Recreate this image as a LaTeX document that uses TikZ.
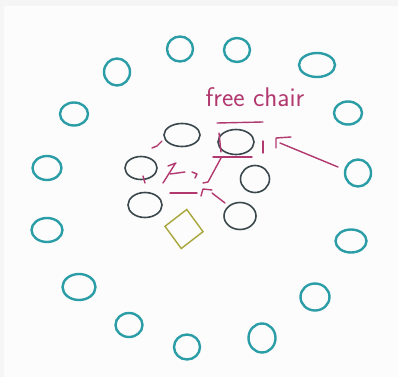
\documentclass[tikz,border=0pt]{standalone}
\usetikzlibrary{shapes.geometric}
\definecolor{tealpen}{HTML}{2A9DA6}
\definecolor{inkpen}{HTML}{3A484D}
\definecolor{redpen}{HTML}{B2396F}
\definecolor{olivepen}{HTML}{A8A63A}
\begin{document}
\begin{tikzpicture}[x=1pt,y=-1pt,
  outer/.style={draw=tealpen,line width=2.4pt,ellipse,inner sep=0pt},
  inner/.style={draw=inkpen,line width=1.6pt,ellipse,inner sep=0pt},
  scrib/.style={draw=redpen,line width=1.4pt,line cap=round,line join=round}]
\useasboundingbox (0,0) rectangle (398,377);
\fill[gray!8] (0,0) rectangle (398,377);
\fill[white!98!gray] (4,6) rectangle (398,377);
% outer ring of chairs
\node[outer,minimum width=26pt,minimum height=25pt] (o1) at (180,49) {};
\node[outer,minimum width=26pt,minimum height=24pt] (o2) at (237,50) {};
\node[outer,minimum width=36pt,minimum height=24pt] (o3) at (317,65) {};
\node[outer,minimum width=28pt,minimum height=23pt] (o4) at (348,113) {};
\node[outer,minimum width=26pt,minimum height=27pt] (o5) at (358,173) {};
\node[outer,minimum width=31pt,minimum height=23pt] (o6) at (351,241) {};
\node[outer,minimum width=29pt,minimum height=27pt] (o7) at (315,297) {};
\node[outer,minimum width=27pt,minimum height=29pt] (o8) at (262,338) {};
\node[outer,minimum width=26pt,minimum height=25pt] (o9) at (187,347) {};
\node[outer,minimum width=27pt,minimum height=24pt] (o10) at (129,325) {};
\node[outer,minimum width=33pt,minimum height=26pt] (o11) at (79,287) {};
\node[outer,minimum width=31pt,minimum height=24pt] (o12) at (47,230) {};
\node[outer,minimum width=29pt,minimum height=24pt] (o13) at (47,168) {};
\node[outer,minimum width=28pt,minimum height=23pt] (o14) at (74,114) {};
\node[outer,minimum width=26pt,minimum height=27pt] (o15) at (117,72) {};
% inner group
\node[inner,minimum width=36pt,minimum height=23pt] (A) at (182,135) {};
\node[inner,minimum width=36pt,minimum height=25pt] (B) at (236,142) {};
\node[inner,minimum width=32pt,minimum height=23pt] (C) at (141,168) {};
\node[inner,minimum width=29pt,minimum height=27pt] (D) at (255,179) {};
\node[inner,minimum width=34pt,minimum height=25pt] (E) at (145,205) {};
\node[inner,minimum width=32pt,minimum height=27pt] (F) at (240,216) {};
\node[diamond,draw=olivepen,line width=1.4pt,minimum width=39pt,minimum height=40pt,inner sep=0pt,rotate=-8] (P) at (184,229) {};
% label
\node[text=redpen,font=\sffamily\fontsize{27}{28}\selectfont] (L) at (255,97) {free chair};
% marks around the free chair
\draw[scrib] (217,123) -- (263,122);
\draw[scrib] (219,133) -- (221,152);
\draw[scrib] (263,141) -- (263,153);
\draw[scrib] (213,157) -- (252,157);
% arrow from the outer ring to the free chair
\coordinate (t5) at (338,167);
\coordinate (h5) at (280,143);
\draw[scrib] (t5) -- (h5);
\draw[scrib] (291,137) -- (276,138) -- (276,148);
% scribbled path marks
\draw[scrib] (152,148) -- (157,146) -- (162,141);
\draw[scrib] (168,166) -- (176,163);
\draw[scrib] (175,164) -- (163,183);
\draw[scrib] (170,174) -- (185,172);
\draw[scrib] (192,172) -- (197,174) -- (195,178);
\draw[scrib] (221,158) -- (208,182) -- (203,183);
\draw[scrib] (143,176) -- (145,183);
\draw[scrib] (170,193) -- (197,193);
\draw[scrib] (201,196) -- (203,189) -- (212,190);
\draw[scrib] (212,193) -- (225,203);
\end{tikzpicture}
\end{document}
